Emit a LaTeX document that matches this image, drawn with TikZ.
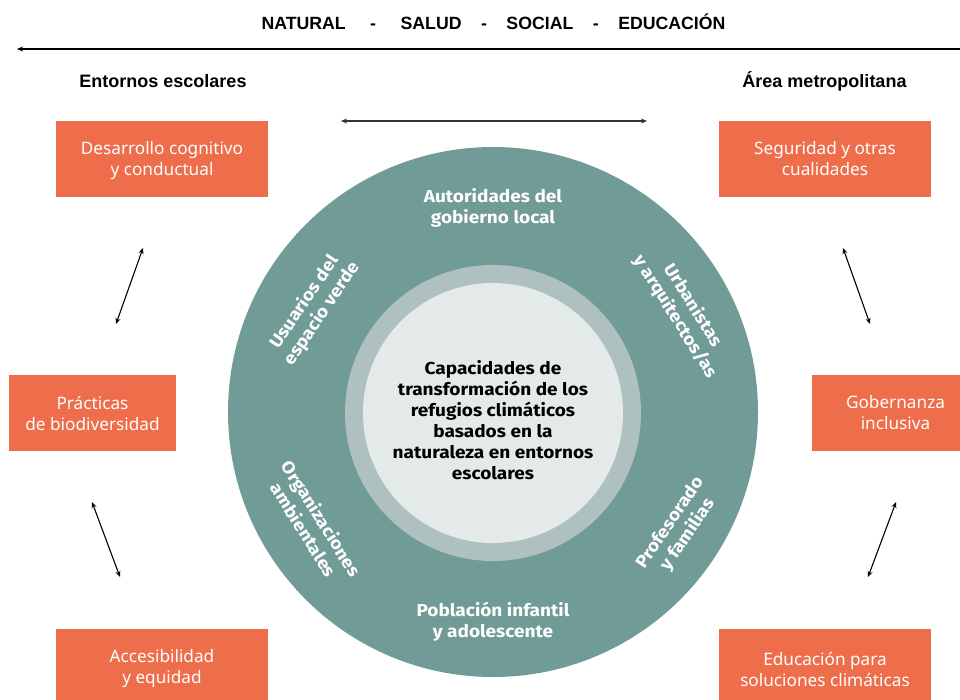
\documentclass[tikz,border=0pt]{standalone}
\usepackage{fontspec}
\setmainfont{Noto Sans}
\newfontfamily\hdfont{Liberation Sans}
\newfontfamily\crfont[FakeStretch=1.1]{Fira Sans}
\usetikzlibrary{arrows.meta}
\definecolor{ringdark}{RGB}{112,155,150}
\definecolor{ringlight}{RGB}{174,193,191}
\definecolor{corefill}{RGB}{228,234,234}
\definecolor{boxorange}{RGB}{238,109,74}
\begin{document}
\begin{tikzpicture}[x=1pt,y=-1pt,
  orangebox/.style={fill=boxorange, text=white, align=center, inner sep=0pt,
    minimum width=212pt, minimum height=76pt, font=\fontsize{17.2}{21}\selectfont},
  headtext/.style={font=\hdfont\bfseries\fontsize{17.7}{21}\selectfont, inner sep=0pt},
  ringtext/.style={text=white, align=center, inner sep=0pt, font=\crfont\bfseries\fontsize{17.3}{21}\selectfont},
  coretext/.style={text=black, align=center, inner sep=0pt, font=\crfont\bfseries\fontsize{17.3}{21}\selectfont},
  dbl/.style={{Stealth[length=6pt,width=5pt]}-{Stealth[length=6pt,width=5pt]}, line width=1.1pt},
]
\useasboundingbox (0,0) rectangle (960,699);
\clip (0,0) rectangle (960,699);

% header
\node[headtext] (hdr) at (493.5,22) {NATURAL\hspace{24.5pt}-\hspace{24.5pt}SALUD\hspace{19.5pt}-\hspace{19.5pt}SOCIAL\hspace{19.5pt}-\hspace{19.5pt}EDUCACIÓN};
\coordinate (hR) at (962,49);
\coordinate (hL) at (17,49);
\draw[-{Stealth[length=6pt,width=5pt]}, line width=1.5pt] (hR) -- (hL);

\node[headtext, font=\hdfont\bfseries\fontsize{18}{21}\selectfont] (ent) at (163,81) {Entornos escolares};
\node[headtext, font=\hdfont\bfseries\fontsize{18}{21}\selectfont] (area) at (824.5,81) {Área metropolitana};

\coordinate (mL) at (341,121);
\coordinate (mR) at (647,121);
\draw[dbl, line width=1.4pt, draw=black!80] (mL) -- (mR);

% circles
\node[circle, fill=ringdark, minimum size=530pt, inner sep=0pt] (outer) at (493,412) {};
\node[circle, fill=ringlight, minimum size=296pt, inner sep=0pt] (ring) at (493,413) {};
\node[circle, fill=corefill, minimum size=260pt, inner sep=0pt] (core) at (493,413) {};

\node[coretext] (ctext) at (493,420) {Capacidades de\\transformación de los\\refugios climáticos\\basados en la\\naturaleza en entornos\\escolares};

\node[ringtext] (aut) at (493,208) {Autoridades del\\gobierno local};
\node[ringtext] (pob) at (493,622) {Población infantil\\y adolescente};
\node[ringtext, rotate=56] (usu) at (313,308) {Usuarios del\\espacio verde};
\node[ringtext, rotate=-58] (urb) at (684,311) {Urbanistas\\y arquitectos/as};
\node[ringtext, rotate=-58] (org) at (313,524) {Organizaciones\\ambientales};
\node[ringtext, rotate=56] (pro) at (679,529) {Profesorado\\y familias};

% boxes
\node[orangebox] (cog) at (162,159) {};
\node[text=white, align=center, inner sep=0pt, font=\fontsize{17.2}{21}\selectfont] (cogt) at (162,160.5) {Desarrollo cognitivo\\y conductual};
\node[orangebox] (seg) at (825,159) {Seguridad y otras\\cualidades};
\node[orangebox, minimum width=167pt] (pra) at (92.5,413) {Prácticas\\de biodiversidad};
\node[orangebox, minimum width=167pt] (gob) at (895.5,413) {Gobernanza\\inclusiva};
\node[orangebox, minimum height=80pt] (acc) at (162,669) {Accesibilidad\\y equidad};
\node[orangebox, minimum height=80pt] (edu) at (825,669) {Educación para\\soluciones climáticas};

% diagonal double arrows
\coordinate (a1t) at (143,248);
\coordinate (a1b) at (116,324);
\coordinate (a2t) at (92,502);
\coordinate (a2b) at (120,577);
\coordinate (a3t) at (843,248);
\coordinate (a3b) at (870,324);
\coordinate (a4t) at (896,502);
\coordinate (a4b) at (868,577);
\draw[dbl] (a1t) -- (a1b);
\draw[dbl] (a2t) -- (a2b);
\draw[dbl] (a3t) -- (a3b);
\draw[dbl] (a4t) -- (a4b);
\end{tikzpicture}
\end{document}
